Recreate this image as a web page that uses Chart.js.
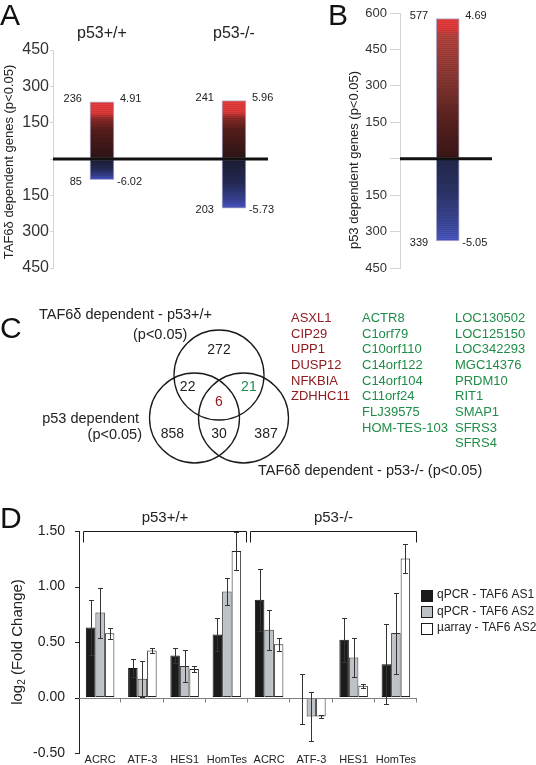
<!DOCTYPE html>
<html><head><meta charset="utf-8">
<script src="https://cdn.jsdelivr.net/npm/chart.js@4.4.1/dist/chart.umd.min.js"></script>
<style>
html,body{margin:0;padding:0;background:#fff;}
#wrap{position:relative;width:536px;height:765px;overflow:hidden;background:#fff;}
canvas{position:absolute;}
</style></head><body>
<div id="wrap">
<canvas id="cB" width="266" height="280" style="left:270px;top:0"></canvas>
<canvas id="cA" width="292" height="280" style="left:0;top:0"></canvas>
<canvas id="cC" width="630" height="314" style="left:-47px;top:233px"></canvas>
<canvas id="cD" width="536" height="265" style="left:0;top:500px"></canvas>
</div>
<script>
const FONT = '"Liberation Sans", Arial, Helvetica, sans-serif';

// ---------- Panel A data ----------
const aGroups = ['p53+/+', 'p53-/-'];
const aUpCounts = [236, 241];
const aDownCounts = [85, 203];
const aUpFold = ['4.91', '5.96'];
const aDownFold = ['-6.02', '-5.73'];
const aAxisTitle = 'TAF6δ dependent genes (p<0.05)';

// ---------- Panel B data ----------
const bUpCounts = [577];
const bDownCounts = [339];
const bUpFold = ['4.69'];
const bDownFold = ['-5.05'];
const bAxisTitle = 'p53 dependent genes (p<0.05)';

// ---------- Panel C data ----------
const vennSetLabels = ['TAF6δ dependent - p53+/+', 'p53 dependent', 'TAF6δ dependent - p53-/- (p<0.05)'];
const vennCounts = [272, 22, 21, 6, 858, 30, 387]; // top only, top&left, top&right, all, left only, left&right, right only
const genesAll3 = ['ASXL1', 'CIP29', 'UPP1', 'DUSP12', 'NFKBIA', 'ZDHHC11'];
const genesTafA = ['ACTR8', 'C1orf79', 'C10orf110', 'C14orf122', 'C14orf104', 'C11orf24', 'FLJ39575', 'HOM-TES-103'];
const genesTafB = ['LOC130502', 'LOC125150', 'LOC342293', 'MGC14376', 'PRDM10', 'RIT1', 'SMAP1', 'SFRS3', 'SFRS4'];

// ---------- Panel D data ----------
const dGenes = ['ACRC', 'ATF-3', 'HES1', 'HomTes', 'ACRC', 'ATF-3', 'HES1', 'HomTes'];
const dConditions = ['p53+/+', 'p53-/-'];
const dSeries = ['qPCR - TAF6 AS1', 'qPCR - TAF6 AS2', 'µarray - TAF6 AS2'];
const qpcrAS1 = [0.63, 0.265, 0.378, 0.568, 0.88, -0.01, 0.52, 0.30];
const qpcrAS1Err = [0.25, 0.08, 0.067, 0.147, 0.28, 0.225, 0.20, 0.36];
const qpcrAS2 = [0.765, 0.168, 0.283, 0.955, 0.61, -0.171, 0.36, 0.58];
const qpcrAS2Err = [0.225, 0.163, 0.144, 0.125, 0.178, 0.22, 0.173, 0.365];
const arrayAS2 = [0.578, 0.423, 0.256, 1.32, 0.48, -0.171, 0.105, 1.252];
const arrayAS2Err = [0.05, 0.025, 0.03, 0.17, 0.058, 0.012, 0.015, 0.13];

// ---------- styles ----------
const A_UP_GRAD = [[0,'#e83d3d'],[0.2,'#de3a3a'],[0.3,'#8a2a28'],[0.5,'#561d1c'],[1,'#2c1515']];
const A_DN_GRAD = [[0,'#1b1d33'],[0.5,'#252b56'],[0.85,'#3a449a'],[1,'#4b57ca']];
const B_UP_GRAD = [[0,'#e63c3c'],[0.07,'#e23a3a'],[0.12,'#b5433d'],[0.4,'#8c3934'],[0.7,'#5c2420'],[1,'#3a1616']];
const B_DN_GRAD = [[0,'#222849'],[0.4,'#2c3466'],[0.75,'#3a4694'],[1,'#4a58c2']];
const RED = '#8e1c20', GREEN = '#1f8c48', INK = '#222';

function barGradient(profile) {
  return function (c) {
    const chart = c.chart, ys = chart.scales && chart.scales.y;
    if (!ys || !c.raw || !Array.isArray(c.raw.y)) return profile[0][1];
    const hi = Math.max(c.raw.y[0], c.raw.y[1]), lo = Math.min(c.raw.y[0], c.raw.y[1]);
    const p0 = ys.getPixelForValue(hi), p1 = ys.getPixelForValue(lo);
    if (!isFinite(p0) || !isFinite(p1) || p0 === p1) return profile[0][1];
    const g = chart.ctx.createLinearGradient(0, p0, 0, p1);
    profile.forEach(s => g.addColorStop(s[0], s[1]));
    return g;
  };
}

function countPanel(canvas, cfg) {
  const plugin = {
    id: 'countPanel',
    afterDatasetsDraw(chart) {
      const { ctx, chartArea: ca, scales: { x: xs, y: ys } } = chart;
      ctx.save();
      // heat-map banding on bars
      chart.data.datasets.forEach((ds, di) => {
        chart.getDatasetMeta(di).data.forEach(el => {
          const l = el.x - el.width / 2, t = Math.min(el.y, el.base), b = Math.max(el.y, el.base);
          ctx.fillStyle = 'rgba(0,0,0,0.07)';
          for (let y = Math.ceil(t) + 1; y < b - 1; y += 2) ctx.fillRect(l + 1, y, el.width - 2, 1);
        });
      });
      const y0 = ys.getPixelForValue(0);
      ctx.strokeStyle = '#111'; ctx.lineWidth = 3;
      ctx.beginPath(); ctx.moveTo(ca.left, y0); ctx.lineTo(ca.right, y0); ctx.stroke();
      ctx.fillStyle = INK; ctx.textBaseline = 'middle';
      ctx.font = `11px ${FONT}`;
      const meta = chart.getDatasetMeta(0);
      cfg.up.forEach((v, i) => {
        const el = meta.data[i];
        const cx = xs.getPixelForValue(i + 1), hw = el.width / 2;
        const yt = ys.getPixelForValue(v), yb = ys.getPixelForValue(-cfg.down[i]);
        ctx.textAlign = 'right';
        ctx.fillText(String(v), cx - hw - 8, yt - 3);
        ctx.fillText(String(cfg.down[i]), cx - hw - 8, yb + 2);
        ctx.textAlign = 'left';
        ctx.fillText(cfg.upFold[i], cx + hw + 6, yt - 3);
        ctx.fillText(cfg.downFold[i], cx + hw + 3, yb + 2);
        if (cfg.groups) {
          ctx.save(); ctx.font = `16px ${FONT}`; ctx.textAlign = 'center';
          ctx.fillText(cfg.groups[i], cx, 34); ctx.restore();
        }
      });
      // axis title
      ctx.save();
      ctx.translate(cfg.titleX, cfg.titleY); ctx.rotate(-Math.PI / 2);
      ctx.font = `13px ${FONT}`; ctx.textAlign = 'center'; ctx.textBaseline = 'middle';
      ctx.fillText(cfg.title, 0, 0);
      ctx.restore();
      // panel letter
      ctx.font = `30px ${FONT}`; ctx.textAlign = 'left'; ctx.textBaseline = 'alphabetic'; ctx.fillStyle = '#111';
      ctx.fillText(cfg.letter, cfg.letterX, 25);
      ctx.restore();
    }
  };
  return new Chart(canvas, {
    type: 'bar',
    data: {
      datasets: [
        { label: 'up', data: cfg.up.map((v, i) => ({ x: i + 1, y: [0, v] })), backgroundColor: barGradient(cfg.upGrad),
          borderColor: 'rgba(150,150,195,0.75)', borderWidth: 1, borderSkipped: false, barThickness: cfg.barW, grouped: false },
        { label: 'down', data: cfg.down.map((v, i) => ({ x: i + 1, y: [-v, 0] })), backgroundColor: barGradient(cfg.dnGrad),
          borderColor: 'rgba(150,150,195,0.75)', borderWidth: 1, borderSkipped: false, barThickness: cfg.barW, grouped: false }
      ]
    },
    options: {
      responsive: false, animation: false, devicePixelRatio: 1, events: [],
      layout: { padding: cfg.padding },
      plugins: { legend: { display: false }, tooltip: { enabled: false } },
      scales: {
        x: { type: 'linear', display: false, offset: false, bounds: 'data', min: cfg.xMin, max: cfg.xMax },
        y: {
          min: -450, max: cfg.yMax,
          ticks: { stepSize: 150, callback: v => (v === 0 ? '' : String(Math.abs(v))), font: { family: FONT, size: cfg.tickSize }, color: '#333', padding: cfg.tickPad },
          grid: { drawOnChartArea: false, tickLength: cfg.tickLen, color: '#d4d4d4' },
          border: { color: '#d4d4d4' },
          afterFit: s => { s.width = cfg.axisW; }
        }
      }
    },
    plugins: [plugin]
  });
}

countPanel(document.getElementById('cA'), {
  up: aUpCounts, down: aDownCounts, upFold: aUpFold, downFold: aDownFold, groups: aGroups,
  upGrad: A_UP_GRAD, dnGrad: A_DN_GRAD, barW: 24, yMax: 450,
  xMin: 0.629, xMax: 2.258, padding: { top: 50, bottom: 12, left: 0, right: 24 },
  axisW: 53, tickSize: 16, tickPad: 1, tickLen: 3,
  title: aAxisTitle, titleX: 9, titleY: 162, letter: 'A', letterX: 0
});
countPanel(document.getElementById('cB'), {
  up: bUpCounts, down: bDownCounts, upFold: bUpFold, downFold: bDownFold, groups: null,
  upGrad: B_UP_GRAD, dnGrad: B_DN_GRAD, barW: 23, yMax: 600,
  xMin: 0.5, xMax: 1.464, padding: { top: 13, bottom: 12, left: 0, right: 44 },
  axisW: 130, tickSize: 13, tickPad: 3, tickLen: 10,
  title: bAxisTitle, titleX: 84, titleY: 160, letter: 'B', letterX: 58
});

// ---------- Panel C: Venn ----------
const vennLayout = {
  circles: [[0, 1], [-1, 0], [1, 0]],
  radius: 45,
  anchors: [[0, 1.58], [-1.28, 0.72], [1.22, 0.72], [0, 0.37], [-1.9, -0.37], [0, -0.37], [1.92, -0.37]],
  countColors: [INK, INK, GREEN, RED, INK, INK, INK]
};
const vennPlugin = {
  id: 'venn',
  afterDatasetsDraw(chart) {
    const { ctx, chartArea: ca, scales: { x: xs, y: ys } } = chart;
    const px = x => ca.left + x, py = y => ca.top + (y - 280);
    ctx.save();
    ctx.textBaseline = 'middle';
    ctx.font = `14px ${FONT}`; ctx.textAlign = 'center';
    vennCounts.forEach((n, i) => {
      const a = vennLayout.anchors[i];
      ctx.fillStyle = vennLayout.countColors[i];
      ctx.fillText(String(n), xs.getPixelForValue(a[0]), ys.getPixelForValue(a[1]));
    });
    ctx.fillStyle = INK; ctx.font = `14.5px ${FONT}`;
    ctx.textAlign = 'left';
    ctx.fillText(vennSetLabels[0], px(39), py(315));
    ctx.fillText('(p<0.05)', px(133), py(335));
    ctx.textAlign = 'right';
    ctx.fillText(vennSetLabels[1], px(139), py(419));
    ctx.fillText('(p<0.05)', px(142), py(435));
    ctx.textAlign = 'left';
    ctx.fillText(vennSetLabels[2], px(258), py(471));
    ctx.font = `13px ${FONT}`;
    const cols = [[genesAll3, 291, RED], [genesTafA, 362, GREEN], [genesTafB, 455, GREEN]];
    cols.forEach(([list, x, col]) => {
      ctx.fillStyle = col;
      list.forEach((g, r) => ctx.fillText(g, px(x), py(318.3 + r * 15.7)));
    });
    ctx.fillStyle = '#111'; ctx.font = `30px ${FONT}`; ctx.textBaseline = 'alphabetic';
    ctx.fillText('C', px(0), py(338));
    ctx.restore();
  }
};
new Chart(document.getElementById('cC'), {
  type: 'bubble',
  data: { datasets: [{ data: vennLayout.circles.map(c => ({ x: c[0], y: c[1], r: vennLayout.radius })),
    backgroundColor: 'rgba(0,0,0,0)', borderColor: '#1a1a1a', borderWidth: 1.3 }] },
  options: {
    responsive: false, animation: false, devicePixelRatio: 1, events: [],
    layout: { padding: 47 },
    plugins: { legend: { display: false }, tooltip: { enabled: false } },
    scales: { x: { type: 'linear', display: false, min: -8.94, max: 12.94 }, y: { type: 'linear', display: false, min: -1.907, max: 3.21 } }
  },
  plugins: [vennPlugin]
});

// ---------- Panel D ----------
const dPlugin = {
  id: 'dExtras',
  afterDatasetsDraw(chart) {
    const { ctx, chartArea: ca, scales: { x: xs, y: ys } } = chart;
    ctx.save();
    // short y tick marks
    ctx.strokeStyle = '#222'; ctx.lineWidth = 1;
    ctx.beginPath();
    ys.ticks.forEach(t => {
      const ty = Math.round(ys.getPixelForValue(t.value)) + 0.5;
      ctx.moveTo(ca.left - 4, ty); ctx.lineTo(ca.left, ty);
    });
    ctx.stroke();
    // zero axis with category boundary ticks
    const y0 = Math.round(ys.getPixelForValue(0)) + 0.5;
    const step = (ca.right - ca.left) / dGenes.length;
    ctx.strokeStyle = '#808080';
    ctx.beginPath(); ctx.moveTo(ca.left, y0); ctx.lineTo(ca.right, y0);
    for (let i = 1; i <= dGenes.length; i++) {
      const bx = Math.round(ca.left + i * step) - 0.5;
      ctx.moveTo(bx, y0); ctx.lineTo(bx, y0 + 4);
    }
    ctx.stroke();
    // error bars
    ctx.strokeStyle = '#333';
    chart.data.datasets.forEach((ds, di) => {
      chart.getDatasetMeta(di).data.forEach((el, i) => {
        const v = ds.data[i], e = ds.errors[i];
        const x = Math.round(el.x) + 0.5;
        const yt = Math.round(ys.getPixelForValue(v + e)) + 0.5, yb = Math.round(ys.getPixelForValue(v - e)) + 0.5;
        ctx.beginPath();
        ctx.moveTo(x, yt); ctx.lineTo(x, yb);
        ctx.moveTo(x - 2.5, yt); ctx.lineTo(x + 2.5, yt);
        ctx.moveTo(x - 2.5, yb); ctx.lineTo(x + 2.5, yb);
        ctx.stroke();
      });
    });
    // category labels under the plot
    ctx.fillStyle = INK; ctx.font = `11px ${FONT}`; ctx.textAlign = 'center'; ctx.textBaseline = 'middle';
    dGenes.forEach((g, i) => ctx.fillText(g, xs.getPixelForValue(i), Math.min(ca.bottom + 7, chart.height - 5)));
    // condition brackets
    const yTop = Math.round(ys.getPixelForValue(1.5)) + 0.5;
    const half = dGenes.length / 2;
    const brackets = [[ca.left + 4, ca.left + half * step - 1.5], [ca.left + half * step + 1.5, ca.right - 0.5]];
    ctx.strokeStyle = '#1a1a1a';
    ctx.font = `15px ${FONT}`;
    brackets.forEach(([l, r], k) => {
      l = Math.round(l) + 0.5; r = Math.round(r) - 0.5;
      ctx.beginPath();
      ctx.moveTo(l, yTop + 11); ctx.lineTo(l, yTop); ctx.lineTo(r, yTop); ctx.lineTo(r, yTop + 11);
      ctx.stroke();
      ctx.fillText(dConditions[k], (l + r) / 2, yTop - 14);
    });
    // y title with subscript
    ctx.save();
    ctx.translate(18, (ca.top + ca.bottom) / 2);
    ctx.rotate(-Math.PI / 2);
    ctx.textAlign = 'left'; ctx.textBaseline = 'middle';
    const big = `15px ${FONT}`, small = `10px ${FONT}`;
    ctx.font = big; const w1 = ctx.measureText('log').width, w3 = ctx.measureText(' (Fold Change)').width;
    ctx.font = small; const w2 = ctx.measureText('2').width;
    let x = -(w1 + w2 + w3) / 2;
    ctx.font = big; ctx.fillText('log', x, 0); x += w1;
    ctx.font = small; ctx.fillText('2', x, 4); x += w2;
    ctx.font = big; ctx.fillText(' (Fold Change)', x, 0);
    ctx.restore();
    // legend
    ctx.font = `12px ${FONT}`; ctx.textAlign = 'left'; ctx.textBaseline = 'middle';
    chart.data.datasets.forEach((ds, i) => {
      const cy = 95 + i * 16.5;
      ctx.fillStyle = ds.backgroundColor; ctx.fillRect(421.5, Math.round(cy - 5.5) + 0.5, 11, 11);
      ctx.strokeStyle = '#1a1a1a'; ctx.strokeRect(421.5, Math.round(cy - 5.5) + 0.5, 11, 11);
      ctx.fillStyle = INK; ctx.fillText(ds.label, 437, cy);
    });
    // panel letter
    ctx.fillStyle = '#111'; ctx.font = `30px ${FONT}`; ctx.textBaseline = 'alphabetic';
    ctx.fillText('D', 0, 28);
    ctx.restore();
  }
};
new Chart(document.getElementById('cD'), {
  type: 'bar',
  data: {
    labels: dGenes,
    datasets: [
      { label: dSeries[0], data: qpcrAS1, errors: qpcrAS1Err, backgroundColor: '#1b1b1b', borderColor: '#111', borderWidth: 1 },
      { label: dSeries[1], data: qpcrAS2, errors: qpcrAS2Err, backgroundColor: '#bec2c6', borderColor: '#333', borderWidth: 1 },
      { label: dSeries[2], data: arrayAS2, errors: arrayAS2Err, backgroundColor: '#ffffff', borderColor: '#222', borderWidth: 1 }
    ]
  },
  options: {
    responsive: false, animation: false, devicePixelRatio: 1, events: [],
    layout: { padding: { top: 31, right: 119, left: 0, bottom: 12 } },
    datasets: { bar: { categoryPercentage: 0.675, barPercentage: 1.0, borderSkipped: false } },
    plugins: { legend: { display: false }, tooltip: { enabled: false } },
    scales: {
      x: { display: false },
      y: {
        min: -0.5, max: 1.5,
        ticks: { stepSize: 0.5, callback: v => Number(v).toFixed(2), font: { family: FONT, size: 14 }, color: INK, padding: 1 },
        grid: { drawOnChartArea: false, tickLength: 13, tickColor: 'rgba(0,0,0,0)', color: 'rgba(0,0,0,0)' },
        border: { color: '#222' },
        afterFit: s => { s.width = 79; }
      }
    }
  },
  plugins: [dPlugin]
});
</script>
</body></html>
